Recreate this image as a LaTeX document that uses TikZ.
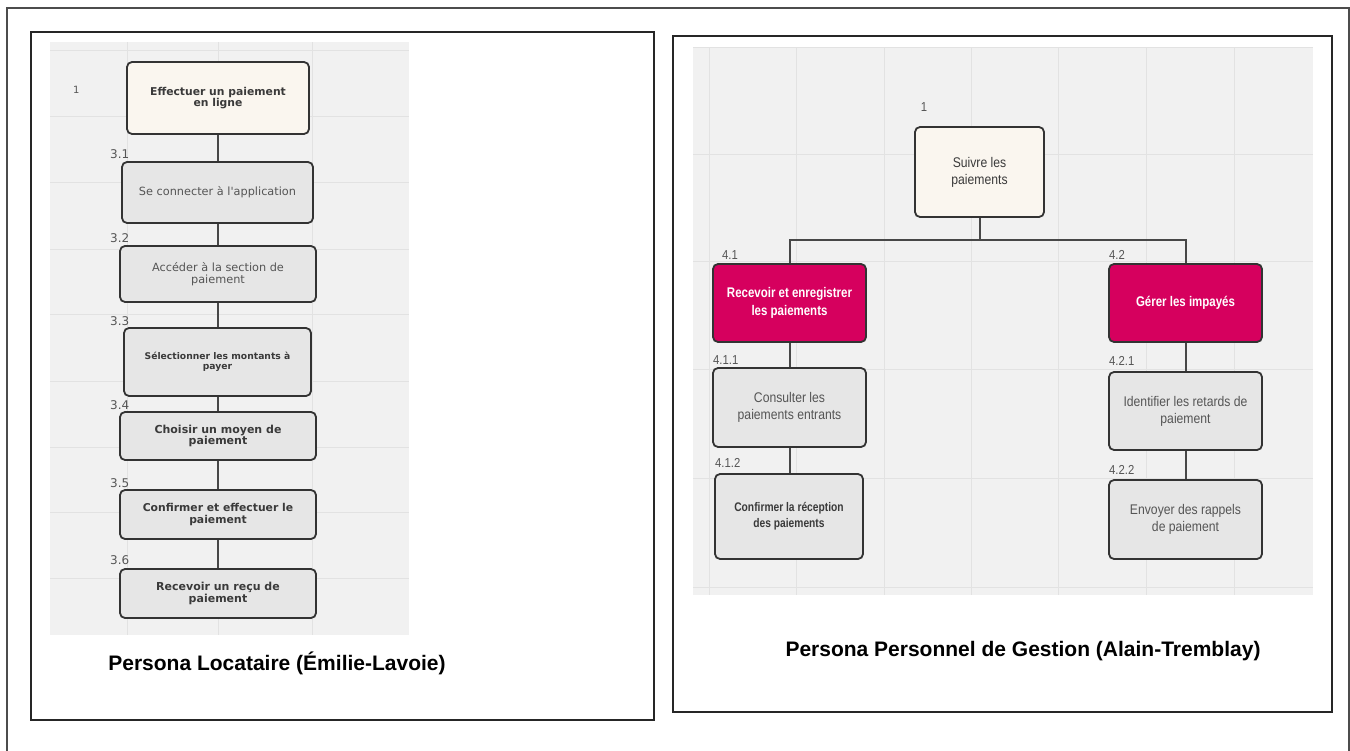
\documentclass[tikz,border=0pt]{standalone}
\usepackage{fontspec}
\setmainfont{Liberation Sans}
\newfontfamily\dv{DejaVu Sans}
\newfontfamily\nar[FakeStretch=0.87]{Liberation Sans}
\newfontfamily\narb[FakeStretch=0.82]{Liberation Sans Bold}
\definecolor{cream}{HTML}{FAF6EF}
\definecolor{boxgrey}{HTML}{E6E6E6}
\definecolor{bggrey}{HTML}{F1F1F1}
\definecolor{gridc}{HTML}{E2E2E2}
\definecolor{pinkc}{HTML}{D6005E}
\definecolor{edge}{HTML}{333333}
\definecolor{txt}{HTML}{3A3A3A}
\definecolor{lbl}{HTML}{555555}
\tikzset{
  tbox/.style={draw=edge, line width=1.8pt, rounded corners=5pt, inner sep=0pt, align=center, text=txt},
  conn/.style={draw=edge!90, line width=2pt},
  numlab/.style={text=lbl, inner sep=0pt, anchor=west},
  gridl/.style={draw=gridc, line width=1pt},
  frame/.style={draw=black!85, line width=1.5pt},
}
\begin{document}
\begin{tikzpicture}[x=1pt,y=-1pt]
\useasboundingbox (0,0) rectangle (1350,751);
% outer frame (open at bottom)
\draw[draw=black!70, line width=1.5pt] (7,751) -- (7,8) -- (1349,8) -- (1349,751);
% panel frames
\draw[frame] (31,32) rectangle (654,720);
\draw[frame] (673,36) rectangle (1332,712);

% ===== left background & grid =====
\fill[bggrey] (50,42) rectangle (409,635);
\foreach \gx in {127,218,312} \draw[gridl] (\gx,42) -- (\gx,635);
\foreach \gy in {51,117,183,250,315,382,447,512,578} \draw[gridl] (50,\gy) -- (409,\gy);

% ===== right background & grid =====
\fill[bggrey] (693,47) rectangle (1313,595);
\foreach \gx in {709,796,884,971,1058,1146,1234} \draw[gridl] (\gx,47) -- (\gx,595);
\foreach \gy in {48,155,262,370,478,587} \draw[gridl] (693,\gy) -- (1313,\gy);

% ===== left boxes =====
\node[tbox, fill=cream, minimum width=182pt, minimum height=72pt, font=\dv\bfseries\fontsize{10.8}{11.5}\selectfont] (b1) at (218,98) {Effectuer un paiement\\en ligne};
\node[tbox, fill=boxgrey, minimum width=191pt, minimum height=61pt, text=lbl, font=\dv\fontsize{11.3}{12}\selectfont] (b31) at (217.5,192.5) {Se connecter à l'application};
\node[tbox, fill=boxgrey, minimum width=196pt, minimum height=56pt, text=lbl, font=\dv\fontsize{11.3}{12}\selectfont] (b32) at (218,274) {Accéder à la section de\\paiement};
\node[tbox, fill=boxgrey, minimum width=187pt, minimum height=68pt, font=\dv\bfseries\fontsize{9.2}{10.5}\selectfont] (b33) at (217.5,362) {Sélectionner les montants à\\payer};
\node[tbox, fill=boxgrey, minimum width=196pt, minimum height=48pt, font=\dv\bfseries\fontsize{11}{11.5}\selectfont] (b34) at (218,436) {Choisir un moyen de\\paiement};
\node[tbox, fill=boxgrey, minimum width=196pt, minimum height=49pt, font=\dv\bfseries\fontsize{10.8}{11.5}\selectfont] (b35) at (218,514.5) {Confirmer et effectuer le\\paiement};
\node[tbox, fill=boxgrey, minimum width=196pt, minimum height=49pt, font=\dv\bfseries\fontsize{11}{11.5}\selectfont] (b36) at (218,593.5) {Recevoir un reçu de\\paiement};

\draw[conn] (b1.south) -- (b1.south |- b31.north);
\draw[conn] (b31.south) -- (b31.south |- b32.north);
\draw[conn] (b32.south) -- (b32.south |- b33.north);
\draw[conn] (b33.south) -- (b33.south |- b34.north);
\draw[conn] (b34.south) -- (b34.south |- b35.north);
\draw[conn] (b35.south) -- (b35.south |- b36.north);

% left labels
\node[numlab, font=\dv\fontsize{10}{12}\selectfont] (l1) at (73,90) {1};
\node[numlab, font=\dv\fontsize{12}{14}\selectfont] (l31) at (110,154) {3.1};
\node[numlab, font=\dv\fontsize{12}{14}\selectfont] (l32) at (110,238) {3.2};
\node[numlab, font=\dv\fontsize{12}{14}\selectfont] (l33) at (110,321) {3.3};
\node[numlab, font=\dv\fontsize{12}{14}\selectfont] (l34) at (110,405) {3.4};
\node[numlab, font=\dv\fontsize{12}{14}\selectfont] (l35) at (110,483) {3.5};
\node[numlab, font=\dv\fontsize{12}{14}\selectfont] (l36) at (110,560) {3.6};

% left caption
\node[font=\bfseries\fontsize{21}{24}\selectfont, inner sep=0pt] (capL) at (277,663) {Persona Locataire (Émilie-Lavoie)};

% ===== right boxes =====
\node[tbox, fill=cream, minimum width=129pt, minimum height=90pt, text=txt, font=\nar\fontsize{14}{17}\selectfont] (r1) at (979.5,172) {Suivre les\\paiements};
\node[tbox, fill=pinkc, minimum width=153pt, minimum height=78pt, text=white, font=\narb\fontsize{14}{18}\selectfont] (r41) at (789.5,303) {Recevoir et enregistrer\\les paiements};
\node[tbox, fill=pinkc, minimum width=153pt, minimum height=78pt, text=white, font=\narb\fontsize{14}{18}\selectfont] (r42) at (1185.5,303) {Gérer les impayés};
\node[tbox, fill=boxgrey, minimum width=153pt, minimum height=79pt, text=lbl, font=\nar\fontsize{14}{17}\selectfont] (r411) at (789.5,407.5) {Consulter les\\paiements entrants};
\node[tbox, fill=boxgrey, minimum width=148pt, minimum height=85pt, text=txt, font=\narb\fontsize{12.5}{16}\selectfont] (r412) at (789,516.5) {Confirmer la réception\\des paiements};
\node[tbox, fill=boxgrey, minimum width=153pt, minimum height=78pt, text=lbl, font=\nar\fontsize{14}{17}\selectfont] (r421) at (1185.5,411) {Identifier les retards de\\paiement};
\node[tbox, fill=boxgrey, minimum width=153pt, minimum height=79pt, text=lbl, font=\nar\fontsize{14}{17}\selectfont] (r422) at (1185.5,519.5) {Envoyer des rappels\\de paiement};

\coordinate (j) at (979.5,240);
\draw[conn] (r1.south) -- (j);
\draw[conn] (r41.north) |- (j) -| (r42.north);
\draw[conn] (r41.south) -- (r41.south |- r411.north);
\draw[conn] (r411.south) -- (r411.south |- r412.north);
\draw[conn] (r42.south) -- (r42.south |- r421.north);
\draw[conn] (r421.south) -- (r421.south |- r422.north);

% right labels
\node[numlab, anchor=center, font=\nar\fontsize{13}{15}\selectfont] (k1) at (924,107) {1};
\node[numlab, font=\nar\fontsize{13}{15}\selectfont] (k41) at (722,255) {4.1};
\node[numlab, font=\nar\fontsize{13}{15}\selectfont] (k42) at (1109,255) {4.2};
\node[numlab, font=\nar\fontsize{13}{15}\selectfont] (k411) at (713,360) {4.1.1};
\node[numlab, font=\nar\fontsize{13}{15}\selectfont] (k421) at (1109,361) {4.2.1};
\node[numlab, font=\nar\fontsize{13}{15}\selectfont] (k412) at (715,463) {4.1.2};
\node[numlab, font=\nar\fontsize{13}{15}\selectfont] (k422) at (1109,470) {4.2.2};

% right caption
\node[font=\bfseries\fontsize{21}{24}\selectfont, inner sep=0pt] (capR) at (1023,651) {Persona Personnel de Gestion (Alain-Tremblay)};
\end{tikzpicture}
\end{document}
